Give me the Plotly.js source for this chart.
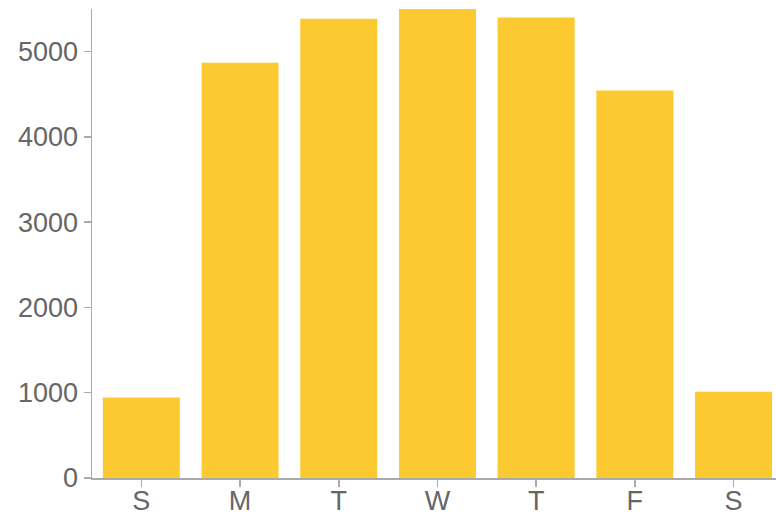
<!DOCTYPE html>
<html>
<head>
<meta charset="utf-8">
<script src="https://cdn.plot.ly/plotly-3.0.1.min.js"></script>
<style>
  html, body { margin: 0; padding: 0; background: #fff; overflow: hidden; }
  #chart { width: 776px; height: 515px; }
</style>
</head>
<body>
<div id="chart"></div>
<script>
// Data
const categories = ['Sun', 'Mon', 'Tue', 'Wed', 'Thu', 'Fri', 'Sat'];
const tickLabels = ['S', 'M', 'T', 'W', 'T', 'F', 'S'];
const values = [945, 4870, 5385, 5500, 5400, 4545, 1010];
const yTicks = [0, 1000, 2000, 3000, 4000, 5000];

const trace = {
  type: 'bar',
  x: categories,
  y: values,
  marker: { color: '#fdc930', line: { width: 0 } },
  hoverinfo: 'x+y'
};

const axisFont = { family: '"Liberation Sans", Arial, Helvetica, sans-serif', size: 27, color: '#666' };

const layout = {
  width: 776,
  height: 515,
  margin: { l: 92, r: 0, t: 9, b: 37, pad: 0 },
  paper_bgcolor: '#fff',
  plot_bgcolor: '#fff',
  showlegend: false,
  bargap: 0.22,
  font: axisFont,
  xaxis: {
    type: 'category',
    range: [-0.5, 6.43],
    tickmode: 'array',
    tickvals: categories,
    ticktext: tickLabels,
    ticks: 'outside',
    ticklen: 7,
    tickwidth: 1.5,
    tickcolor: '#aaa',
    ticklabelstandoff: -9,
    showline: true,
    linecolor: '#aaa',
    linewidth: 1.5,
    showgrid: false,
    zeroline: false,
    tickfont: axisFont,
    fixedrange: true
  },
  yaxis: {
    range: [0, 5500],
    tickmode: 'array',
    tickvals: yTicks,
    ticktext: yTicks.map(String),
    ticks: 'outside',
    ticklen: 7,
    tickwidth: 1.5,
    tickcolor: '#aaa',
    showline: true,
    linecolor: '#aaa',
    linewidth: 1.5,
    showgrid: false,
    zeroline: false,
    tickfont: axisFont,
    fixedrange: true
  }
};

Plotly.newPlot('chart', [trace], layout, { displayModeBar: false, staticPlot: true });
</script>
</body>
</html>
